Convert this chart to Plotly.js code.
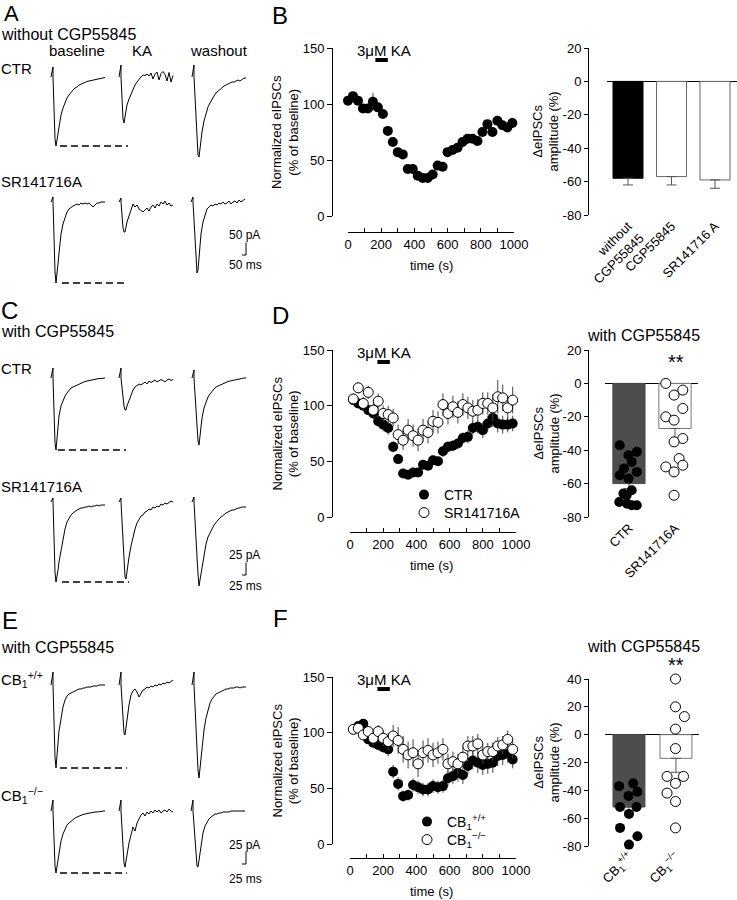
<!DOCTYPE html>
<html><head><meta charset="utf-8">
<script src="https://cdn.plot.ly/plotly-3.0.1.min.js"></script>
<style>html,body{margin:0;padding:0;background:#fff}#chart{width:737px;height:900px}</style>
</head><body><div id="chart"></div>
<script>
// ================= DATA =================
// Sample times of the example sweeps (ms after stimulus)
const sweepTimeA  = [-25,0,0.125,12.5,25,37.5,50,62.5,75,100,125,150,175,200,225,250,275,300,325,350,375,400,425,450,475,500,525,550,575,600,625,650];
const sweepTimeCE = [-12.5,0,0.06,6.25,12.5,18.75,25,31.25,37.5,50,62.5,75,87.5,100,112.5,125,137.5,150,162.5,175,187.5,200,212.5,225,237.5,250,262.5,275,287.5,300,312.5,325];

// Panel A (pA) – without CGP55845
const A_ctr_baseline = [0,40,0,-140,-248,-276,-248,-216,-188,-152,-124,-100,-84,-72,-60,-52,-44,-40,-32,-28,-24,-20,-18,-16,-14,-12,-10,-8,-8,-6,-4,-2];
const A_ctr_KA       = [0,48,0,-100,-168,-184,-160,-132,-112,-88,-68,-48,-32,-20,-8,0,8,6,12,4,16,-8,12,20,-12,14,22,10,-16,18,-20,6];
const A_ctr_washout  = [0,48,0,-80,-180,-260,-312,-320,-280,-220,-176,-144,-120,-104,-88,-76,-64,-56,-48,-40,-36,-32,-28,-24,-20,-20,-16,-12,-16,-8,-4,-4];
const A_sr_baseline  = [0,20,0,-160,-280,-324,-280,-232,-192,-128,-88,-60,-40,-28,-20,-16,-12,-8,-12,-4,-8,-4,-8,-4,-12,-20,-12,-4,-4,0,0,0];
const A_sr_KA        = [0,16,0,-60,-104,-120,-120,-100,-80,-56,-36,-8,-20,-12,-28,-36,-40,-32,-24,-36,-20,-12,-24,-8,-16,0,-8,4,-12,-4,-16,-12];
const A_sr_washout   = [0,20,0,-80,-180,-248,-284,-272,-220,-128,-80,-48,-28,-20,-12,-16,-8,-12,-4,-8,0,-8,-4,4,-8,0,4,-4,8,0,8,12];

// Panel C (pA) – with CGP55845
const C_ctr_baseline = [0,20,0,-80,-130,-144,-120,-96,-76,-56,-44,-36,-30,-24,-20,-18,-16,-14,-12,-10,-8,-7,-6,-5,-4,-3,-2,-2,-1,-1,0,0];
const C_ctr_KA       = [0,20,0,-20,-40,-56,-64,-64,-56,-44,-32,-24,-18,-14,-12,-14,-10,-8,-12,-6,-9,-7,-4,-8,-6,-3,-5,-8,-4,-2,-5,-3];
const C_ctr_washout  = [0,16,0,-30,-70,-104,-126,-134,-116,-80,-60,-48,-38,-32,-26,-22,-18,-16,-14,-12,-10,-8,-7,-6,-5,-4,-3,-2,-2,-1,0,0];
const C_sr_baseline  = [0,8,0,-80,-140,-160,-150,-136,-120,-96,-72,-54,-40,-32,-26,-22,-18,-16,-14,-12,-12,-10,-10,-8,-10,-8,-8,-6,-8,-6,-6,-6];
const C_sr_KA        = [0,8,0,-40,-90,-130,-150,-154,-136,-110,-88,-70,-54,-42,-34,-28,-26,-20,-18,-14,-16,-10,-12,-8,-10,-4,-6,-2,-4,0,2,0];
const C_sr_washout   = [0,10,0,-30,-70,-110,-144,-168,-156,-130,-104,-84,-70,-60,-54,-46,-40,-36,-32,-28,-24,-22,-20,-18,-16,-16,-14,-12,-12,-10,-10,-10];

// Panel E (pA) – with CGP55845, CB1+/+ and CB1-/-
const E_wt_baseline  = [0,26,0,-80,-144,-166,-140,-116,-92,-68,-44,-30,-22,-18,-16,-14,-12,-10,-8,-8,-6,-6,-4,-4,-4,-2,-2,-2,0,0,0,0];
const E_wt_KA        = [0,26,0,-40,-76,-96,-100,-84,-64,-40,-20,-12,-8,-14,-24,-16,-10,-8,-4,-6,-2,-4,0,-2,2,0,4,2,6,4,8,10];
const E_wt_washout   = [0,26,0,-40,-90,-140,-170,-186,-164,-130,-90,-66,-48,-36,-28,-22,-18,-16,-14,-12,-10,-8,-8,-6,-6,-6,-4,-4,-6,-4,-4,-4];
const E_ko_baseline  = [0,22,0,-60,-110,-124,-112,-96,-84,-60,-46,-36,-28,-24,-20,-16,-14,-12,-10,-8,-7,-6,-5,-4,-4,-3,-2,-2,-2,-1,0,0];
const E_ko_KA        = [0,22,0,-40,-80,-104,-112,-100,-84,-64,-48,-32,-40,-24,-16,-8,-4,-10,-2,-6,0,-4,2,-2,2,-4,0,2,-2,4,0,-2];
const E_ko_washout   = [0,22,0,-30,-70,-96,-110,-112,-96,-70,-44,-30,-22,-16,-12,-8,-6,-6,-4,-4,-2,-2,-2,-2,0,0,0,0,0,0,0,0];

// Dashed reference lines (ms span on the baseline sweep)
const dashMsA = [[87, 937], [112, 925]];
const dashMsC = [[31, 456], [56, 475]];
const dashMsE = [[44, 462], [44, 462]];

// Time courses (s, % of baseline)
const timeB = [0,30,60,90,120,150,180,210,240,270,300,330,360,390,420,450,480,510,540,570,600,630,660,690,720,750,780,810,840,870,900,930,960,990];
const ctrB  = [103,107,103,96,96,102,97,91,76,66,57,55,42,42,36,34,34,37,45,44,57,59,61,66,69,69,67,75,82,75,85,81,79,83];
const ctrB_sem = [3,3,3,3,3,8,3,3,3,3,3,3,3,3,3,3,3,3,3,3,3,3,3,3,3,3,3,3,3,3,3,3,3,3];

const timeD = [20,50,80,110,140,170,200,230,260,290,320,350,380,410,440,470,500,530,560,590,620,650,680,710,740,770,800,830,860,890,920,950,980];
const ctrD  = [105,102,100,96,93,86,83,80,63,52,39,38,40,40,47,46,51,50,59,63,64,66,71,72,80,81,78,84,89,84,83,83,84];
const ctrD_sem = [4,4,4,4,5,5,6,6,5,4,3,3,3,3,4,4,4,4,5,5,5,5,5,6,6,6,7,7,8,8,8,7,7];
const srD   = [106,116,102,112,96,104,93,92,89,74,69,78,73,69,78,76,86,85,101,93,99,94,101,98,95,96,102,102,98,108,107,98,105];
const srD_sem  = [5,5,6,6,6,7,7,8,8,9,9,10,10,10,10,10,10,10,10,10,10,10,10,10,10,10,10,10,12,15,12,10,12];

const timeF = [20,50,80,110,140,170,200,230,260,290,320,350,380,410,440,470,500,530,560,590,620,650,680,710,740,770,800,830,860,890,920,950,980];
const wtF   = [103,106,108,94,91,89,87,85,65,54,43,44,53,51,49,49,52,51,52,59,61,64,62,70,75,73,71,72,73,79,80,81,76];
const wtF_sem  = [3,3,4,4,5,5,5,6,6,6,5,5,6,6,6,6,6,6,6,7,7,8,8,8,8,9,9,9,9,9,9,8,8];
const koF   = [103,104,98,101,95,101,95,92,97,93,85,80,82,72,82,84,80,82,85,72,74,72,78,88,88,90,80,83,83,88,89,94,85];
const koF_sem  = [4,4,5,5,6,6,7,8,10,12,12,12,12,12,11,11,11,10,10,9,9,9,9,9,9,9,8,8,8,8,8,8,8];

const kaPeriod = [165, 240]; // s

// Bar charts (Δ eIPSC amplitude, %)
const barB_labels = ['without<br>CGP55845', 'CGP55845', 'SR141716 A'];
const barB_means  = [-58, -57, -59];
const barB_sem    = [4, 5, 5];

const barD_labels = ['CTR', 'SR141716A'];
const barD_means  = [-60, -27];
const barD_sem    = [3, 7];
const dotsD_ctr   = [-37,-41,-43,-47,-51,-55,-53,-57,-64,-66,-67,-71,-72,-73,-73];
const jitD_ctr    = [-0.2,0.17,-0.01,0.06,-0.11,-0.2,0.17,-0.01,0.06,-0.12,-0.05,-0.21,-0.04,0.17,0.06];
const dotsD_sr    = [0,-4,-7,-15,-20,-22,-33,-35,-45,-49,-50,-53,-67];
const jitD_sr     = [-0.2,0.17,-0.02,0.17,-0.2,-0.02,0.17,-0.02,0.09,0.17,-0.2,-0.02,-0.02];

const barF_labels = ['CB<sub>1</sub><sup>+/+</sup>', 'CB<sub>1</sub><sup>−/−</sup>'];
const barF_means  = [-52, -17];
const barF_sem    = [3, 10];
const dotsF_wt    = [-37,-35,-41,-44,-52,-52,-57,-67,-73,-79];
const jitF_wt     = [-0.21,0.09,0.18,-0.01,-0.19,0.16,0,-0.19,0.18,0];
const dotsF_ko    = [40,20,13,4,-10,-30,-30,-35,-42,-48,-67];
const jitF_ko     = [-0.01,-0.01,0.18,-0.01,-0.01,-0.19,0.16,-0.01,-0.19,-0.01,-0.01];

// ================= LAYOUT / DRAWING =================
const W = 737, H = 900;
const FONT = 'Liberation Sans, Arial, Helvetica, sans-serif';
const px = x => x / W;
const py = y => 1 - y / H;

const layout = {
  width: W, height: H, autosize: false,
  margin: {l: 0, r: 0, t: 0, b: 0},
  paper_bgcolor: '#fff', plot_bgcolor: 'rgba(0,0,0,0)',
  font: {family: FONT, size: 13, color: '#000'},
  hovermode: false, dragmode: false, showlegend: true,
  annotations: [], shapes: []
};
const data = [];
let axisCount = 0;
function newAxes() {
  axisCount++;
  const s = axisCount === 1 ? '' : String(axisCount);
  return {xa: 'xaxis' + s, ya: 'yaxis' + s, x: 'x' + s, y: 'y' + s};
}
function ann(text, x, y, size, o) {
  layout.annotations.push(Object.assign({
    text: text, x: px(x), y: py(y), xref: 'paper', yref: 'paper', showarrow: false,
    font: {size: size, family: FONT, color: '#000'}, xanchor: 'center', yanchor: 'middle', borderpad: 0
  }, o || {}));
}

// ---- example sweeps ----
function addSweep(time, current, ox, oy, msPerPx, pAPerPx) {
  const a = newAxes();
  const left = ox - 4, right = ox + 80, top = oy - 20, bottom = Math.min(oy + 100, 899);
  layout[a.xa] = {domain: [px(left), px(right)], range: [(left - ox) * msPerPx, (right - ox) * msPerPx],
                  visible: false, anchor: a.y, fixedrange: true};
  layout[a.ya] = {domain: [py(bottom), py(top)], range: [-(bottom - oy) * pAPerPx, (oy - top) * pAPerPx],
                  visible: false, anchor: a.x, fixedrange: true};
  data.push({type: 'scatter', mode: 'lines', x: time, y: current, xaxis: a.x, yaxis: a.y,
             line: {color: '#000', width: 1}, showlegend: false, hoverinfo: 'skip'});
  return a;
}
const tracePanels = [
  {time: sweepTimeA, msPerPx: 12.5, pAPerPx: 4,
   rows: [[A_ctr_baseline, A_ctr_KA, A_ctr_washout], [A_sr_baseline, A_sr_KA, A_sr_washout]],
   origins: [[[53, 77], [121, 77], [194, 77]], [[53, 202], [121, 202], [193, 202]]],
   dash: dashMsA, bar: 50, barPx: [246, 255]},
  {time: sweepTimeCE, msPerPx: 6.25, pAPerPx: 2,
   rows: [[C_ctr_baseline, C_ctr_KA, C_ctr_washout], [C_sr_baseline, C_sr_KA, C_sr_washout]],
   origins: [[[53, 378], [121, 378], [194, 378]], [[53, 502], [121, 502], [194, 502]]],
   dash: dashMsC, bar: 25, barPx: [246, 575]},
  {time: sweepTimeCE, msPerPx: 6.25, pAPerPx: 2,
   rows: [[E_wt_baseline, E_wt_KA, E_wt_washout], [E_ko_baseline, E_ko_KA, E_ko_washout]],
   origins: [[[53, 685], [121, 685], [194, 685]], [[53, 811], [121, 811], [193, 811]]],
   dash: dashMsE, bar: 25, barPx: [246, 864]}
];
tracePanels.forEach(p => {
  p.rows.forEach((row, r) => {
    row.forEach((cur, c) => {
      const o = p.origins[r][c];
      const a = addSweep(p.time, cur, o[0], o[1], p.msPerPx, p.pAPerPx);
      if (c === 0) {
        const peak = Math.min.apply(null, cur);
        data.push({type: 'scatter', mode: 'lines', x: p.dash[r], y: [peak, peak], xaxis: a.x, yaxis: a.y,
                   line: {color: '#000', width: 1.6, dash: '7px,4px'}, showlegend: false, hoverinfo: 'skip'});
      }
      if (r === 1 && c === 2) {
        const cx = (p.barPx[0] - o[0]) * p.msPerPx, cy = -(p.barPx[1] - o[1]) * p.pAPerPx;
        data.push({type: 'scatter', mode: 'lines', x: [cx - p.bar, cx, cx], y: [cy, cy, cy + p.bar],
                   xaxis: a.x, yaxis: a.y, line: {color: '#000', width: 1}, showlegend: false, hoverinfo: 'skip'});
      }
    });
  });
});

// ---- time-course plots ----
function addTimePlot(cfg, series) {
  const a = newAxes();
  layout[a.xa] = {domain: [px(cfg.x0), px(cfg.x1)], range: [0, 1000], anchor: 'free', position: py(cfg.xAxisY),
    showline: true, linecolor: '#000', linewidth: 1, ticks: 'inside', ticklen: 4, tickcolor: '#000', tickwidth: 1,
    tick0: 0, dtick: 200, minor: {dtick: 100, ticks: 'inside', ticklen: 4, tickcolor: '#000', tickwidth: 1, showgrid: false},
    showgrid: false, zeroline: false, tickfont: {size: 13}, fixedrange: true};
  layout[a.ya] = {domain: [py(cfg.y0), py(cfg.y1)], range: [0, 150], anchor: 'free', position: px(cfg.yAxisX),
    showline: true, linecolor: '#000', linewidth: 1, ticks: 'outside', ticklen: 5, tickcolor: '#000', tickwidth: 1,
    tick0: 0, dtick: 50, showgrid: false, zeroline: false, tickfont: {size: 13}, fixedrange: true};
  series.forEach(s => {
    data.push({type: 'scatter', mode: 'markers', x: s.t, y: s.v, xaxis: a.x, yaxis: a.y, name: s.name || '',
      showlegend: !!s.name, legend: s.legend, cliponaxis: false,
      error_y: {type: 'data', array: s.e, color: '#444', thickness: 1, width: 0},
      marker: s.open ? {size: 10, color: '#fff', line: {color: '#000', width: 1}} : {size: 10, color: '#000', line: {width: 0}},
      hoverinfo: 'skip'});
  });
  layout.shapes.push({type: 'line', xref: a.x, yref: 'paper', x0: kaPeriod[0], x1: kaPeriod[1],
    y0: py(cfg.kaY), y1: py(cfg.kaY), line: {color: '#000', width: 4}});
  ann('3μM KA', 384, cfg.kaY - 10, 15);
  ann('Normalized eIPSCs<br>(% of baseline)', 285, (cfg.y0 + cfg.y1) / 2, 13, {textangle: -90});
  ann('time (s)', 431, cfg.xAxisY + 33, 13);
}
addTimePlot({x0: 348, x1: 514, xAxisY: 232, y0: 216, y1: 48, yAxisX: 332, kaY: 60},
  [{t: timeB, v: ctrB, e: ctrB_sem}]);
addTimePlot({x0: 350, x1: 516, xAxisY: 532, y0: 517, y1: 350, yAxisX: 332, kaY: 362},
  [{t: timeD, v: ctrD, e: ctrD_sem, name: 'CTR', legend: 'legend'},
   {t: timeD, v: srD, e: srD_sem, name: 'SR141716A', legend: 'legend2', open: true}]);
addTimePlot({x0: 350, x1: 516, xAxisY: 858, y0: 844, y1: 677, yAxisX: 332, kaY: 689},
  [{t: timeF, v: wtF, e: wtF_sem, name: 'CB<sub>1</sub><sup>+/+</sup>', legend: 'legend3'},
   {t: timeF, v: koF, e: koF_sem, name: 'CB<sub>1</sub><sup>−/−</sup>', legend: 'legend4', open: true}]);

function legendAt(x, y) {
  return {x: px(x), y: py(y), xanchor: 'left', yanchor: 'middle', bgcolor: 'rgba(0,0,0,0)',
    font: {size: 14, family: FONT}, itemwidth: 30, tracegroupgap: 0, borderwidth: 0};
}
layout.legend  = legendAt(404, 495);
layout.legend2 = legendAt(404, 513);
layout.legend3 = legendAt(407, 822);
layout.legend4 = legendAt(407, 840);

// ---- bar charts ----
function addBarPlot(cfg) {
  const a = newAxes();
  const idx = cfg.labels.map((_, i) => i);
  const tv = [], tt = [];
  for (let v = cfg.yr[0]; v <= cfg.yr[1]; v += 20) { tv.push(v); tt.push(String(v)); }
  layout[a.xa] = {domain: [px(cfg.x0), px(cfg.x1)], range: cfg.xr, anchor: a.y, showline: false, ticks: '',
    tickvals: idx, ticktext: cfg.labels, tickangle: -45, showgrid: false, zeroline: false,
    tickfont: {size: 13}, fixedrange: true};
  layout[a.ya] = {domain: [py(cfg.y0), py(cfg.y1)], range: cfg.yr, anchor: 'free', position: px(588),
    showline: true, linecolor: '#000', linewidth: 1, ticks: 'outside', ticklen: 4, tickcolor: '#000',
    tickvals: tv, ticktext: tt, showgrid: false, zeroline: true, zerolinecolor: '#000', zerolinewidth: 1,
    tickfont: {size: 13}, fixedrange: true};
  data.push({type: 'bar', x: idx, y: cfg.means, width: cfg.width, xaxis: a.x, yaxis: a.y, showlegend: false,
    marker: {color: cfg.fill, line: {color: cfg.edge, width: 1}},
    error_y: {type: 'data', symmetric: false, array: cfg.means.map(() => 0), arrayminus: cfg.sem,
              color: '#555', thickness: 1, width: 5}, hoverinfo: 'skip'});
  (cfg.dots || []).forEach(d => {
    data.push({type: 'scatter', mode: 'markers', x: d.jit.map(j => d.i + j), y: d.v, xaxis: a.x, yaxis: a.y,
      showlegend: false, cliponaxis: false, hoverinfo: 'skip',
      marker: d.open ? {size: 10, color: '#fff', line: {color: '#000', width: 1}} : {size: 10, color: '#000', line: {width: 0}}});
  });
  if (cfg.title) ann(cfg.title, 643, cfg.titleY, 16);
  if (cfg.stars) ann(cfg.stars, 676, cfg.starsY, 20);
  ann('ΔeIPSCs<br>amplitude (%)', 546, (cfg.y0 + cfg.y1) / 2, 13, {textangle: -90});
}
addBarPlot({x0: 607, x1: 737, y0: 215, y1: 48, xr: [-0.483, 2.506], yr: [-80, 20], width: 0.69,
  labels: barB_labels, means: barB_means, sem: barB_sem,
  fill: ['#000', '#fff', '#fff'], edge: ['#000', '#666', '#666']});
addBarPlot({x0: 605, x1: 698, y0: 517, y1: 350, xr: [-0.52, 1.5], yr: [-80, 20], width: 0.7,
  labels: barD_labels, means: barD_means, sem: barD_sem,
  fill: ['#4d4d4d', '#fff'], edge: ['#4d4d4d', '#777'],
  dots: [{i: 0, v: dotsD_ctr, jit: jitD_ctr}, {i: 1, v: dotsD_sr, jit: jitD_sr, open: true}],
  title: 'with CGP55845', titleY: 335, stars: '**', starsY: 362});
addBarPlot({x0: 605, x1: 699, y0: 846, y1: 679, xr: [-0.51, 1.49], yr: [-80, 40], width: 0.68,
  labels: barF_labels, means: barF_means, sem: barF_sem,
  fill: ['#4d4d4d', '#fff'], edge: ['#4d4d4d', '#777'],
  dots: [{i: 0, v: dotsF_wt, jit: jitF_wt}, {i: 1, v: dotsF_ko, jit: jitF_ko, open: true}],
  title: 'with CGP55845', titleY: 646, stars: '**', starsY: 665});

// ---- panel text ----
ann('A', 12, 13, 22); ann('B', 280, 15, 24); ann('C', 9, 310, 24);
ann('D', 280, 315, 24); ann('E', 10, 620, 24); ann('F', 280, 618, 24);
const L = {xanchor: 'left'};
ann('without CGP55845', 0, 35, 16, L);
ann('baseline', 77, 50, 15); ann('KA', 142, 50, 15); ann('washout', 219, 50, 15);
ann('CTR', 0, 68, 15, L); ann('SR141716A', 0, 182, 15, L);
ann('with CGP55845', 0, 332, 16, L);
ann('CTR', 0, 369, 15, L); ann('SR141716A', 0, 486, 15, L);
ann('with CGP55845', 0, 647, 16, L);
ann('CB<sub>1</sub><sup>+/+</sup>', 0, 679, 15, L); ann('CB<sub>1</sub><sup>−/−</sup>', 0, 795, 15, L);
ann('50 pA', 244, 235, 12); ann('50 ms', 245, 265, 12);
ann('25 pA', 244, 555, 12); ann('25 ms', 245, 586, 12);
ann('25 pA', 244, 845, 12); ann('25 ms', 245, 879, 12);

Plotly.newPlot('chart', data, layout, {staticPlot: true, displayModeBar: false});
</script>
</body></html>
